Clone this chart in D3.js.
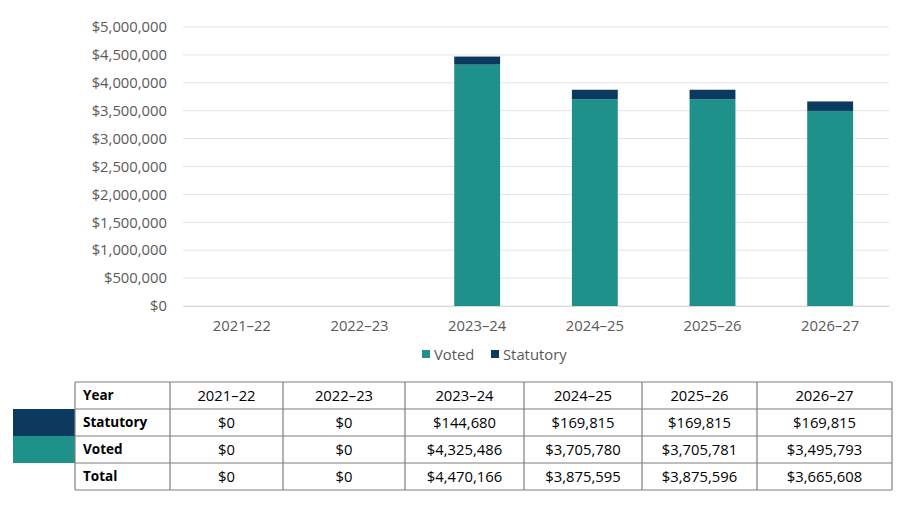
<!DOCTYPE html>
<html>
<head>
<meta charset="utf-8">
<script src="https://cdn.jsdelivr.net/npm/d3@7"></script>
<style>
  body { margin: 0; background: #fff; }
  text { font-family: "Open Sans", "Noto Sans", sans-serif; }
</style>
</head>
<body>
<div id="chart"></div>
<script>
// chart data
var years = ["2021–22", "2022–23", "2023–24", "2024–25", "2025–26", "2026–27"];
var statutory = [0, 0, 144680, 169815, 169815, 169815];
var voted = [0, 0, 4325486, 3705780, 3705781, 3495793];
var total = [0, 0, 4470166, 3875595, 3875596, 3665608];
var yTicks = [0, 500000, 1000000, 1500000, 2000000, 2500000, 3000000, 3500000, 4000000, 4500000, 5000000];
var seriesNames = ["Voted", "Statutory"];

var colors = { Voted: "#1f918b", Statutory: "#0c3a5e" };

var W = 900, H = 506;
var svg = d3.select("#chart").append("svg")
  .attr("width", W).attr("height", H);

// scales
var x = d3.scaleBand()
  .domain(years)
  .range([183, 889])
  .paddingInner(0.61)
  .paddingOuter(0.305);

var y = d3.scaleLinear()
  .domain([0, 5000000])
  .range([306, 27]);

var money = function(v) { return "$" + d3.format(",")(v); };

// gridlines
svg.append("g")
  .selectAll("line")
  .data(yTicks)
  .enter().append("line")
    .attr("x1", 183).attr("x2", 889)
    .attr("y1", function(d) { return y(d); })
    .attr("y2", function(d) { return y(d); })
    .attr("stroke", "#e3e3e3")
    .attr("stroke-width", 1);

// y axis labels
var yAxis = svg.append("g")
  .attr("transform", "translate(167,0)")
  .call(d3.axisLeft(y).tickValues(yTicks).tickFormat(money).tickSize(0).tickPadding(0));
yAxis.select(".domain").remove();
yAxis.selectAll("text")
  .attr("fill", "#595959")
  .style("font-size", "14.8px")
  .style("font-family", "Open Sans, sans-serif");

// x axis labels
var xAxis = svg.append("g")
  .attr("transform", "translate(0,306)")
  .call(d3.axisBottom(x).tickSize(0).tickPadding(14));
xAxis.select(".domain").attr("stroke", "#d9d9d9");
xAxis.selectAll("text")
  .attr("fill", "#595959")
  .style("font-size", "14.8px")
  .style("font-family", "Open Sans, sans-serif");

// stacked bars
var rows = years.map(function(yr, i) {
  return { year: yr, Voted: voted[i], Statutory: statutory[i] };
});
var stack = d3.stack().keys(seriesNames)(rows);

svg.append("g")
  .selectAll("g")
  .data(stack)
  .enter().append("g")
    .attr("fill", function(d) { return colors[d.key]; })
  .selectAll("rect")
  .data(function(d) { return d; })
  .enter().append("rect")
    .attr("x", function(d) { return x(d.data.year); })
    .attr("y", function(d) { return y(d[1]); })
    .attr("width", x.bandwidth())
    .attr("height", function(d) { return y(d[0]) - y(d[1]); });

// legend
var legend = svg.append("g").attr("transform", "translate(422,355)");
var lx = [0, 69];
seriesNames.forEach(function(name, i) {
  var g = legend.append("g").attr("transform", "translate(" + lx[i] + ",0)");
  g.append("rect").attr("x", 0).attr("y", -5).attr("width", 8).attr("height", 8)
    .attr("fill", colors[name]);
  g.append("text").attr("x", 12).attr("y", 0).attr("dy", "0.35em")
    .attr("fill", "#595959").style("font-size", "14.8px").text(name);
});

// table
var colEdges = [75, 170, 283, 405, 524, 642, 757, 892];
var rowEdges = [382, 409, 436, 463, 490];
var tableRows = [
  ["Year"].concat(years),
  ["Statutory"].concat(statutory.map(money)),
  ["Voted"].concat(voted.map(money)),
  ["Total"].concat(total.map(money))
];

// swatches left of table
svg.append("rect").attr("x", 13).attr("y", rowEdges[1]).attr("width", 62)
  .attr("height", rowEdges[2] - rowEdges[1]).attr("fill", colors.Statutory);
svg.append("rect").attr("x", 13).attr("y", rowEdges[2]).attr("width", 62)
  .attr("height", rowEdges[3] - rowEdges[2]).attr("fill", colors.Voted);

var table = svg.append("g");
tableRows.forEach(function(r, ri) {
  r.forEach(function(cell, ci) {
    var x0 = colEdges[ci], x1 = colEdges[ci + 1];
    var y0 = rowEdges[ri], y1 = rowEdges[ri + 1];
    table.append("text")
      .attr("x", ci === 0 ? x0 + 8 : (x0 + x1) / 2)
      .attr("y", (y0 + y1) / 2)
      .attr("dy", "0.36em")
      .attr("text-anchor", ci === 0 ? "start" : "middle")
      .attr("fill", "#000")
      .style("font-size", ci === 0 ? "13.5px" : "14.8px")
      .style("font-weight", ci === 0 ? "bold" : "normal")
      .text(cell);
  });
});

// grid lines of table
colEdges.forEach(function(cx) {
  table.append("line").attr("x1", cx).attr("x2", cx)
    .attr("y1", rowEdges[0]).attr("y2", rowEdges[rowEdges.length - 1])
    .attr("stroke", "#7f7f7f").attr("stroke-width", 1.2);
});
rowEdges.forEach(function(ry) {
  table.append("line").attr("x1", colEdges[0]).attr("x2", colEdges[colEdges.length - 1])
    .attr("y1", ry).attr("y2", ry)
    .attr("stroke", "#7f7f7f").attr("stroke-width", 1.2);
});
</script>
</body>
</html>
